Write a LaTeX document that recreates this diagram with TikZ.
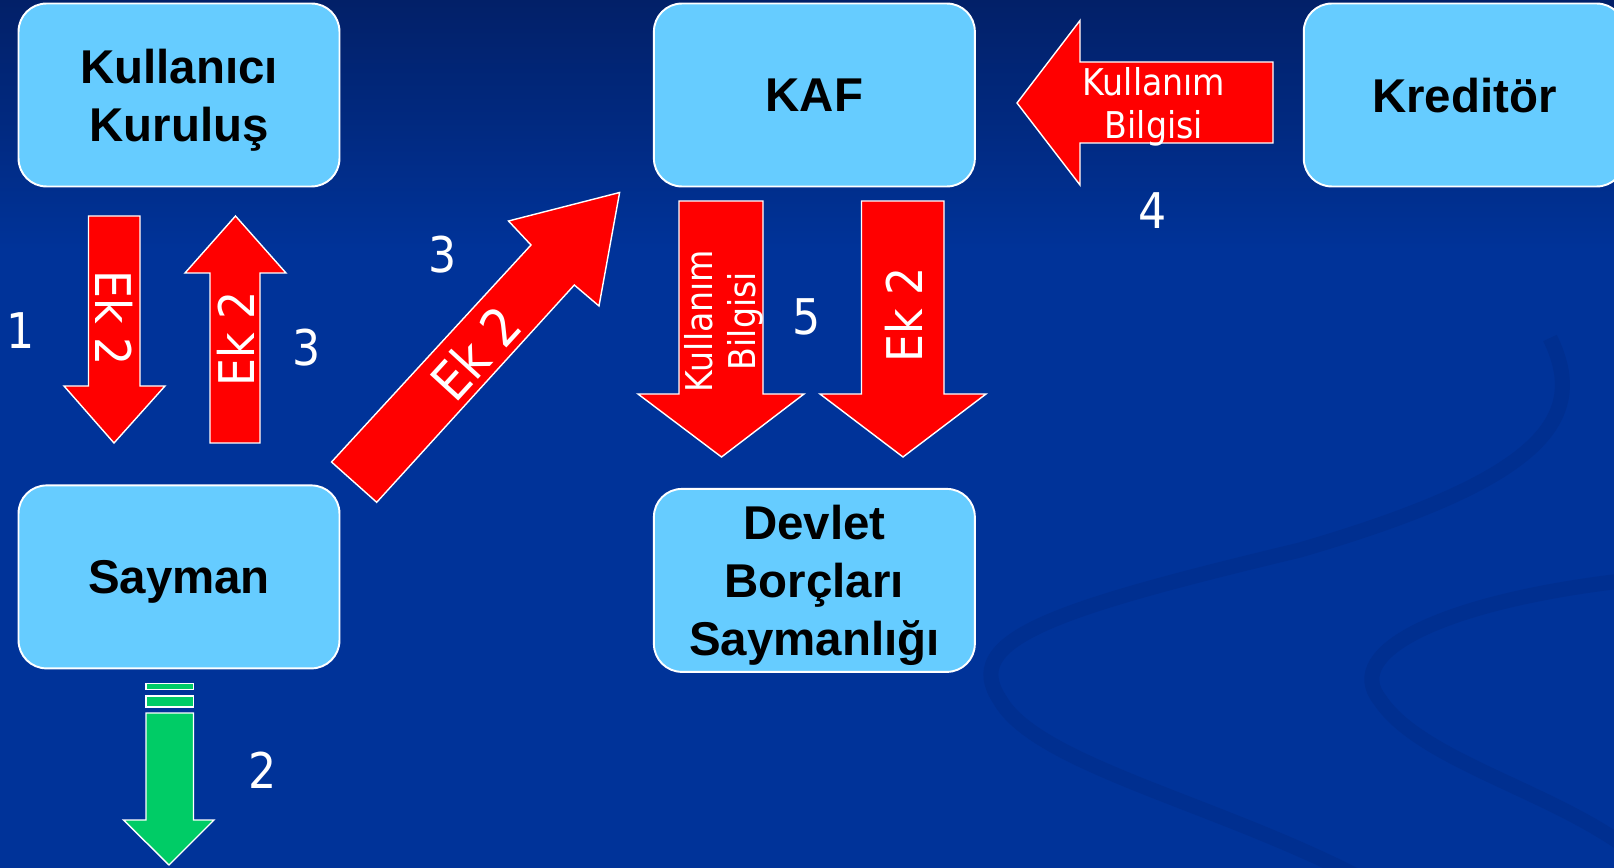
\documentclass[tikz,border=0pt]{standalone}
\usepackage{fontspec}
\setmainfont{Liberation Sans}
\newfontfamily\labelfont{DejaVu Sans Condensed}
\definecolor{bgblue}{RGB}{0,51,153}
\definecolor{bgtop}{RGB}{2,32,104}
\definecolor{boxblue}{RGB}{102,204,255}
\definecolor{swirlblue}{RGB}{0,47,144}
\definecolor{arrowgreen}{RGB}{0,204,102}

\begin{document}
\begin{tikzpicture}[x=0.02cm,y=-0.02cm,line join=miter,
  box node/.style={draw=white,line width=1.1pt,fill=boxblue,rounded corners=0.56cm,minimum width=6.42cm,minimum height=3.66cm,inner sep=0pt,align=center,text depth=0pt,font=\fontsize{27}{33}\selectfont\bfseries},
  red arrow/.style={fill=red,draw=white,line width=0.8pt},
  green arrow/.style={fill=arrowgreen,draw=white,line width=0.8pt},
  arrow label/.style={text=white,inner sep=0pt,font=\labelfont\fontsize{28}{33}\selectfont},
  info label/.style={text=white,inner sep=0pt,align=center,font=\labelfont\fontsize{21}{24.5}\selectfont},
  step label/.style={text=white,inner sep=0pt,font=\labelfont\fontsize{28}{33}\selectfont}]
                \clip (0,0) rectangle (1614,868);
                \fill[bgblue] (0,0) rectangle (1614,868);
                \shade[top color=bgtop,bottom color=bgblue] (0,0) rectangle (1614,250);
                \draw[swirlblue,line width=0.3cm] (1550,338) .. controls (1590,420) and (1540,480) .. (1300,550)
                    .. controls (1050,610) and (960,640) .. (1000,700) .. controls (1040,770) and (1250,810) .. (1400,900);
                \draw[swirlblue,line width=0.3cm] (1630,580) .. controls (1450,600) and (1340,650) .. (1380,700)
                    .. controls (1420,760) and (1550,790) .. (1630,850);

                \node[box node] (kul) at (179,95) {Kullanıcı\\Kuruluş};
                \node[box node] (say) [below of=kul, node distance=9.64cm] {Sayman};
                \node[box node] (kaf) [right of=kul, node distance=12.71cm] {KAF};
                \node[box node] (dbs) [below of=kaf, node distance=9.71cm] {Devlet\\Borçları\\Saymanlığı};
                \node[box node] (kre) [right of=kaf, node distance=13cm] {Kreditör};

                \draw[red arrow] (88.5,216) -- (140,216) -- (140,386) -- (165,386) -- (114,443) -- (64,386) -- (88.5,386) -- cycle;
                \draw[red arrow] (210,443) -- (260,443) -- (260,273) -- (286,273) -- (235.5,216) -- (185,273) -- (210,273) -- cycle;
                \draw[red arrow] (331.5,462) -- (531,245) -- (508.5,221) -- (619.6,192.5) -- (599,306) -- (574.3,285) -- (376.7,502.3) -- cycle;
                \draw[red arrow] (679,201) -- (763,201) -- (763,394) -- (804,394) -- (721.5,457) -- (638,394) -- (679,394) -- cycle;
                \draw[red arrow] (861.5,201) -- (944,201) -- (944,394) -- (986,394) -- (903,457) -- (820,394) -- (861.5,394) -- cycle;
                \draw[red arrow] (1273,62) -- (1080,62) -- (1080,20.5) -- (1017,103) -- (1080,185) -- (1080,143) -- (1273,143) -- cycle;
                \draw[green arrow] (146,683.5) rectangle (193.5,689.5);
                \draw[green arrow] (146,696) rectangle (193.5,707);
                \draw[green arrow] (146,713) -- (193.5,713) -- (193.5,820) -- (214,820) -- (169,865) -- (123.5,820) -- (146,820) -- cycle;

                \node[arrow label, rotate=-90] (ek1) at (114,318) {Ek 2};
                \node[arrow label, rotate=90] (ek2) at (236,339) {Ek 2};
                \node[arrow label, rotate=47.5, font=\labelfont\fontsize{30}{34}\selectfont] (ek3) at (475,353) {Ek 2};
                \node[info label, rotate=90] (kb1) at (724,321) {Kullanım\\Bilgisi};
                \node[arrow label, rotate=90] (ek4) at (904,315) {Ek 2};
                \node[info label] (kb2) at (1154,107) {Kullanım\\Bilgisi};

                \node[step label] (s1) at (20.6,331) {1};
                \node[step label] (s2) at (262.5,770) {2};
                \node[step label] (s3a) at (307,348) {3};
                \node[step label] (s3b) at (443,255) {3};
                \node[step label] (s4) at (1153,211) {4};
                \node[step label] (s5) at (807,317) {5};
            \end{tikzpicture}
\end{document}
